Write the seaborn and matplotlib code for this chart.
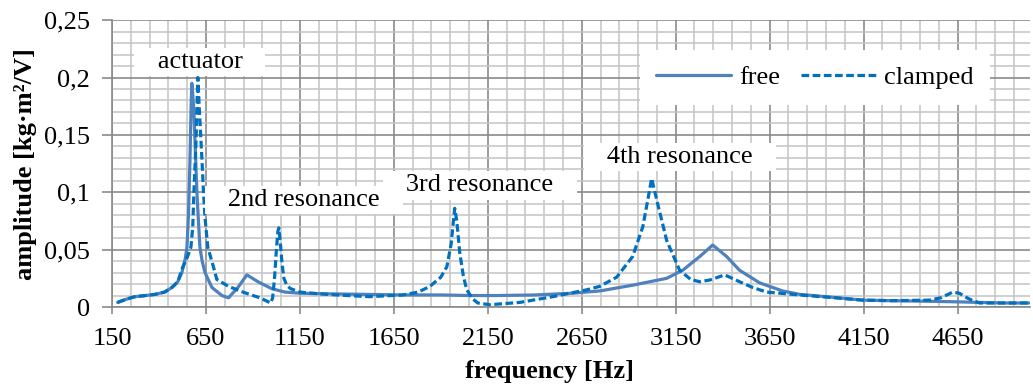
import numpy as np
import pandas as pd
import matplotlib
matplotlib.use("Agg")
import matplotlib.pyplot as plt
from matplotlib.ticker import MultipleLocator, FixedLocator, FixedFormatter
import seaborn as sns

# ---------------- data ----------------
free_freq = [180, 230, 272, 330, 379, 430, 469, 500, 522, 540, 549, 557, 565, 571,
             575, 580, 586, 594, 602, 610, 618, 630, 645, 682, 735, 770, 820, 868,
             927, 1000, 1070, 1150, 1300, 1500, 1700, 1900, 2054, 2200, 2400, 2600,
             2746, 2921, 3102, 3187, 3278, 3347, 3421, 3490, 3597, 3719, 3810, 3950,
             4145, 4300, 4500, 4650, 4767, 4900, 5030]
free_amp = [0.004, 0.007, 0.009, 0.010, 0.011, 0.013, 0.017, 0.022, 0.030, 0.042,
            0.052, 0.080, 0.128, 0.175, 0.195, 0.185, 0.170, 0.135, 0.100, 0.075,
            0.052, 0.040, 0.030, 0.017, 0.010, 0.008, 0.017, 0.028, 0.022, 0.016,
            0.013, 0.012, 0.0115, 0.011, 0.0105, 0.0105, 0.0100, 0.0100, 0.0105,
            0.0120, 0.0140, 0.0190, 0.0250, 0.0320, 0.0440, 0.0540, 0.0440, 0.0320,
            0.0210, 0.0140, 0.0110, 0.0090, 0.0060, 0.0055, 0.0050, 0.0045, 0.0040,
            0.0035, 0.0035]

clamped_freq = [180, 230, 272, 330, 379, 430, 469, 500, 527, 550, 570, 580, 586,
                597, 603, 607, 614, 622, 629, 637, 645, 660, 690, 708, 770, 847, 937,
                995, 1005, 1015, 1025, 1033, 1038, 1045, 1055, 1065, 1080, 1100, 1150,
                1250, 1347, 1522, 1698, 1780, 1842, 1900, 1932, 1955, 1967, 1974, 1985,
                2001, 2020, 2038, 2070, 2097, 2161, 2320, 2496, 2677, 2746, 2836, 2921,
                2975, 3000, 3022, 3054, 3102, 3171, 3230, 3278, 3331, 3411, 3490, 3560,
                3634, 3810, 4000, 4145, 4300, 4500, 4560, 4600, 4624, 4660, 4700, 4725,
                4767, 4900, 5030]
clamped_amp = [0.004, 0.007, 0.009, 0.010, 0.011, 0.013, 0.017, 0.022, 0.035, 0.043,
               0.052, 0.070, 0.100, 0.143, 0.180, 0.200, 0.175, 0.150, 0.128, 0.100,
               0.078, 0.052, 0.035, 0.024, 0.018, 0.013, 0.008, 0.0035, 0.008, 0.025,
               0.050, 0.066, 0.069, 0.058, 0.038, 0.025, 0.019, 0.016, 0.013, 0.0115,
               0.0105, 0.009, 0.0105, 0.013, 0.018, 0.026, 0.035, 0.055, 0.075, 0.086,
               0.075, 0.047, 0.027, 0.015, 0.007, 0.0035, 0.002, 0.004, 0.009, 0.015,
               0.018, 0.026, 0.044, 0.070, 0.092, 0.112, 0.090, 0.058, 0.032, 0.024,
               0.022, 0.0235, 0.028, 0.022, 0.017, 0.013, 0.0105, 0.008, 0.006, 0.0055,
               0.006, 0.008, 0.011, 0.013, 0.012, 0.008, 0.006, 0.0035, 0.0035, 0.0035]

series_names = ["free", "clamped"]
x_ticks = [150, 650, 1150, 1650, 2150, 2650, 3150, 3650, 4150, 4650]
y_ticks = [0, 0.05, 0.1, 0.15, 0.2, 0.25]
y_tick_labels = ["0", "0,05", "0,1", "0,15", "0,2", "0,25"]
annotations = ["actuator", "2nd resonance", "3rd resonance", "4th resonance"]
annot_x = [618, 1171, 2108, 3172]
annot_y = [0.2134, 0.0932, 0.106, 0.1307]

df = pd.concat([
    pd.DataFrame({"frequency": free_freq, "amplitude": free_amp, "series": "free"}),
    pd.DataFrame({"frequency": clamped_freq, "amplitude": clamped_amp, "series": "clamped"}),
], ignore_index=True)

# ---------------- styling ----------------
FS = 19
sns.set_theme(style="white")
plt.rcParams["font.family"] = ["Liberation Serif", "DejaVu Serif"]
plt.rcParams["font.size"] = FS
plt.rcParams["text.color"] = "black"
plt.rcParams["xtick.color"] = "black"
plt.rcParams["ytick.color"] = "black"
plt.rcParams["axes.labelcolor"] = "black"

fig, ax = plt.subplots(figsize=(10.33, 3.87), dpi=100)
fig.subplots_adjust(left=0.1084, right=0.997, top=0.948, bottom=0.2067)

# grid
ax.set_axisbelow(True)
ax.xaxis.set_major_locator(FixedLocator(x_ticks))
ax.xaxis.set_minor_locator(FixedLocator(list(range(150, 5100, 100))))
ax.yaxis.set_major_locator(FixedLocator(y_ticks))
ax.yaxis.set_major_formatter(FixedFormatter(y_tick_labels))
ax.yaxis.set_minor_locator(MultipleLocator(0.01))
ax.grid(which="minor", color="#c4c4c4", linewidth=1.1)
ax.grid(which="major", color="#8a8a8a", linewidth=1.2)

sns.lineplot(data=df, x="frequency", y="amplitude", hue="series", style="series",
             hue_order=series_names, style_order=series_names,
             palette={"free": "#4f81bd", "clamped": "#0070c0"},
             dashes={"free": "", "clamped": (2.4, 1.1)},
             linewidth=2.3, sort=False, ax=ax, legend=True)

ax.set_xlim(150, 5035)
ax.set_ylim(0, 0.25)

for s in ["top", "right"]:
    ax.spines[s].set_visible(False)
for s in ["left", "bottom"]:
    ax.spines[s].set_color("#8a8a8a")
    ax.spines[s].set_linewidth(1.2)

ax.tick_params(axis="x", which="major", direction="out", length=5, width=1.2,
               color="#8a8a8a", labelcolor="black", labelsize=FS, pad=10, bottom=True)
ax.tick_params(axis="y", which="major", direction="out", length=7, width=1.2,
               color="#8a8a8a", labelcolor="black", labelsize=FS, pad=9, left=True)
ax.tick_params(which="minor", length=0)

ax.set_xlabel("frequency [Hz]", fontsize=FS, fontweight="bold", color="black")
ax.set_ylabel("amplitude [kg·m²/V]", fontsize=FS, fontweight="bold", color="black")
ax.xaxis.set_label_coords(0.477, -0.185)
ax.yaxis.set_label_coords(-0.082, 0.5)

for txt, xx, yy in zip(annotations, annot_x, annot_y):
    ax.text(xx, yy, "   " + txt + "   ", ha="center", va="center", fontsize=FS,
            color="black",
            bbox=dict(boxstyle="square,pad=0.12", facecolor="white", edgecolor="none"))

handles, labels = ax.get_legend_handles_labels()
leg = ax.legend(handles, labels, loc="center", bbox_to_anchor=(0.766, 0.80),
                ncol=2, frameon=True, fontsize=FS, handlelength=2.85,
                handletextpad=0.3, columnspacing=0.8, borderpad=0.6,
                fancybox=False)
leg.get_frame().set_facecolor("white")
leg.get_frame().set_edgecolor("none")
leg.get_frame().set_alpha(1.0)

fig.savefig("out.png", dpi=100)
